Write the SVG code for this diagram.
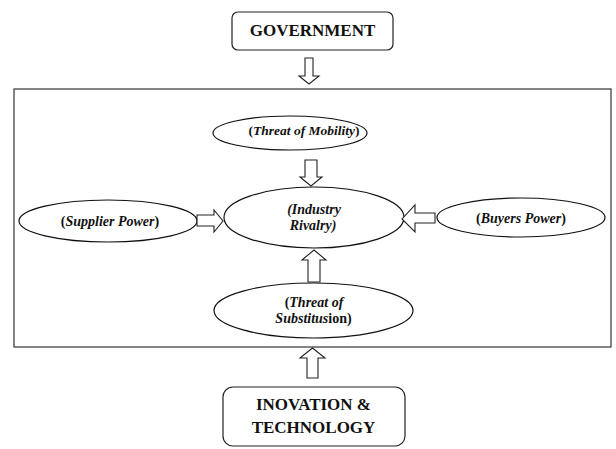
<svg xmlns="http://www.w3.org/2000/svg" width="616" height="449" viewBox="0 0 616 449">
<style>
.box{fill:#fff;stroke:#222;stroke-width:1.2}
.el{fill:#fff;stroke:#111;stroke-width:1.2}
.arr{fill:#fff;stroke:#222;stroke-width:1.1;stroke-linejoin:miter}
text{font-family:'Liberation Serif','Times New Roman',serif;font-weight:bold;fill:#111}
.big{font-size:17px}
.it{font-size:14px}
.i{font-style:italic}
</style>
<rect width="616" height="449" fill="#fff"/>
<g id="frame"><rect x="14" y="89" width="597" height="258" fill="none" stroke="#333" stroke-width="1.2"/></g>
<g id="government">
<rect class="box" x="232" y="12" width="161" height="38" rx="6"/>
<text class="big" x="312.5" y="36" text-anchor="middle">GOVERNMENT</text>
</g>
<g id="innovation">
<rect class="box" x="223" y="387" width="182" height="59" rx="10"/>
<text class="big" x="313.5" y="410" text-anchor="middle">INOVATION &amp;</text>
<text class="big" x="313.5" y="433" text-anchor="middle">TECHNOLOGY</text>
</g>
<g id="mobility">
<ellipse class="el" cx="290" cy="133" rx="77" ry="17"/>
<text class="it" style="font-size:13.5px" x="304" y="135" text-anchor="middle">(<tspan class="i">Threat of Mobility</tspan>)</text>
</g>
<g id="rivalry">
<ellipse class="el" cx="314" cy="217.5" rx="90" ry="30.5"/>
<text class="it i" x="314" y="214" text-anchor="middle">(Industry</text>
<text class="it i" x="313" y="230" text-anchor="middle">Rivalry)</text>
</g>
<g id="supplier">
<ellipse class="el" cx="108" cy="221" rx="89" ry="21"/>
<text class="it" x="110" y="226" text-anchor="middle">(<tspan class="i">Supplier Power</tspan>)</text>
</g>
<g id="buyers">
<ellipse class="el" cx="521" cy="217.5" rx="84" ry="19.5"/>
<text class="it" x="521" y="223" text-anchor="middle">(<tspan class="i">Buyers Power</tspan>)</text>
</g>
<g id="substitution">
<ellipse class="el" cx="313.5" cy="310.5" rx="99.5" ry="27.5"/>
<text class="it" x="314" y="307" text-anchor="middle">(<tspan class="i">Threat of</tspan></text>
<text class="it" x="313.5" y="323" text-anchor="middle"><tspan class="i">Substitus</tspan>ion)</text>
</g>
<g id="connectors">
<polygon class="arr" points="305,58 313,58 313,76 319,76 309,84 299,76 305,76"/>
<polygon class="arr" points="305,160 317,160 317,177 322,177 311,186 300,177 305,177"/>
<polygon class="arr" points="197,215 214,215 214,210 223,221 214,232 214,226 197,226"/>
<polygon class="arr" points="435,213 415,213 415,205 402,219 415,232 415,223 435,223"/>
<polygon class="arr" points="308,282 320,282 320,260 326,260 314,250 302,260 308,260"/>
<polygon class="arr" points="307,378 318,378 318,358 325,358 312.5,348 300,358 307,358"/>
</g>
</svg>
